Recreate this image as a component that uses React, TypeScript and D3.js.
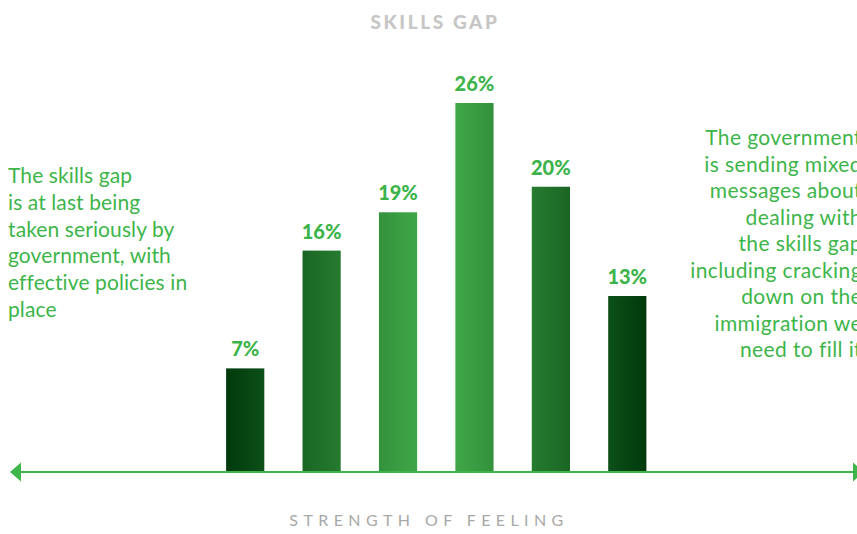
import { useRef, useEffect } from 'react';
import * as d3 from 'd3';

const categories = ['1', '2', '3', '4', '5', '6'];
// printed labels
const labels = [7, 16, 19, 26, 20, 13];
// bar heights as drawn in the picture (same % units, the original is not exact)
const barValues = [7.3, 15.6, 18.3, 26, 20.1, 12.4];
const leftLines = [
    'The skills gap',
    'is at last being',
    'taken seriously by',
    'government, with',
    'effective policies in',
    'place',
];
const rightLines = [
    'The government',
    'is sending mixed',
    'messages about',
    'dealing with',
    'the skills gap',
    'including cracking',
    'down on the',
    'immigration we',
    'need to fill it',
];

const GREEN = '#3db54a';
const FONT = 'Lato, sans-serif';

const App = () => {
    const svgRef = useRef<SVGSVGElement | null>(null);

    useEffect(() => {
        const svgElement = svgRef.current;
        if (!svgElement) return;

        const width = 857;
        const height = 534;
        const baseline = 472;

        const svg = d3.select(svgElement);
        svg.selectAll('*').remove();

        const x = d3.scaleBand<string>()
            .domain(categories)
            .range([207, 665.5])
            .paddingInner(0.5)
            .paddingOuter(0.25);

        const y = d3.scaleLinear()
            .domain([0, 26])
            .range([baseline, 103]);

        // one gradient across all bars, light in the middle
        const defs = svg.append('defs');
        const grad = defs.append('linearGradient')
            .attr('id', 'barGrad')
            .attr('gradientUnits', 'userSpaceOnUse')
            .attr('x1', x(categories[0])!)
            .attr('x2', x(categories[5])! + x.bandwidth())
            .attr('y1', 0)
            .attr('y2', 0);
        grad.append('stop').attr('offset', '0%').attr('stop-color', '#003a0c');
        grad.append('stop').attr('offset', '50%').attr('stop-color', '#46b24d');
        grad.append('stop').attr('offset', '100%').attr('stop-color', '#003a0c');

        svg.append('text')
            .attr('x', 435)
            .attr('y', 29)
            .attr('text-anchor', 'middle')
            .style('font-family', FONT)
            .style('font-weight', 900)
            .style('font-size', '19px')
            .style('letter-spacing', '2.6px')
            .style('fill', '#c6c6c6')
            .text('SKILLS GAP');

        svg.selectAll('rect.bar')
            .data(barValues)
            .enter()
            .append('rect')
            .attr('class', 'bar')
            .attr('x', (_, i) => x(categories[i])!)
            .attr('y', d => y(d))
            .attr('width', x.bandwidth())
            .attr('height', d => baseline - y(d))
            .attr('fill', 'url(#barGrad)');

        svg.selectAll('text.val')
            .data(barValues)
            .enter()
            .append('text')
            .attr('class', 'val')
            .attr('x', (_, i) => x(categories[i])! + x.bandwidth() / 2)
            .attr('y', d => y(d) - 12)
            .attr('text-anchor', 'middle')
            .style('font-family', FONT)
            .style('font-weight', 900)
            .style('font-size', '20px')
            .style('fill', '#3cb44b')
            .text((_, i) => `${labels[i]}%`);

        // axis with arrows
        svg.append('line')
            .attr('x1', 18)
            .attr('x2', 856)
            .attr('y1', baseline)
            .attr('y2', baseline)
            .attr('stroke', GREEN)
            .attr('stroke-width', 2);

        svg.append('path')
            .attr('d', `M10,${baseline} L21,${baseline - 9.5} L21,${baseline + 9.5} Z`)
            .attr('fill', GREEN);

        svg.append('path')
            .attr('d', `M864,${baseline} L853,${baseline - 9.5} L853,${baseline + 9.5} Z`)
            .attr('fill', GREEN);

        svg.append('text')
            .attr('x', 429)
            .attr('y', 526)
            .attr('text-anchor', 'middle')
            .style('font-family', FONT)
            .style('font-size', '16px')
            .style('letter-spacing', '5.4px')
            .style('fill', '#a8a8a8')
            .text('STRENGTH OF FEELING');

        svg.append('g')
            .selectAll('text')
            .data(leftLines)
            .enter()
            .append('text')
            .attr('x', 8)
            .attr('y', (_, i) => 183 + i * 26.8)
            .style('font-family', FONT)
            .style('font-size', '21px')
            .style('letter-spacing', '0.1px')
            .style('fill', GREEN)
            .text(d => d);

        // right block runs past the edge of the frame, as in the original
        svg.append('g')
            .selectAll('text')
            .data(rightLines)
            .enter()
            .append('text')
            .attr('x', 862)
            .attr('y', (_, i) => 145 + i * 26.5)
            .attr('text-anchor', 'end')
            .style('font-family', FONT)
            .style('font-size', '21px')
            .style('letter-spacing', '0.4px')
            .style('fill', GREEN)
            .text(d => d);

        svg.attr('width', width).attr('height', height);
    }, []);

    return (
        <div style={{ position: 'absolute', left: 0, top: 0, width: 857, height: 534, overflow: 'hidden', background: '#fff' }}>
            <svg ref={svgRef} width={857} height={534} style={{ display: 'block' }}></svg>
        </div>
    );
};

export default App;
